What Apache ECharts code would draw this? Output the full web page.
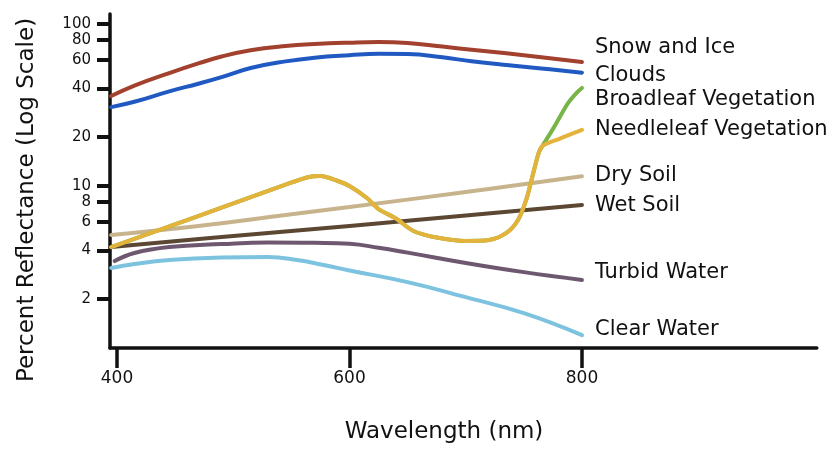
<!DOCTYPE html>
<html>
<head>
<meta charset="utf-8">
<script src="https://cdn.jsdelivr.net/npm/echarts@6/dist/echarts.min.js"></script>
<style>
  html, body { margin: 0; padding: 0; background: #fff; }
  #chart { width: 835px; height: 450px; }
</style>
</head>
<body>
<div id="chart"></div>
<script>
// ---- Data (wavelength in nm, reflectance in %) ----
const seriesNames = ['Snow and Ice', 'Clouds', 'Broadleaf Vegetation', 'Needleleaf Vegetation', 'Dry Soil', 'Wet Soil', 'Turbid Water', 'Clear Water'];

const snowX = [395, 415, 445, 470, 490, 515, 545, 570, 600, 625, 650, 680, 705, 735, 765, 800];
const snowY = [35.9, 41.7, 49.8, 57.1, 63.0, 68.9, 73.1, 75.2, 76.7, 77.4, 76.3, 72.6, 69.3, 65.9, 62.3, 58.3];

const cloudsX = [395, 415, 445, 470, 490, 515, 545, 570, 600, 625, 650, 680, 705, 735, 765, 800];
const cloudsY = [30.7, 33.1, 38.4, 42.8, 47.0, 53.5, 58.8, 62.0, 64.2, 65.5, 65.2, 62.3, 58.9, 55.8, 53.2, 50.1];

const needleX = [395, 445, 490, 545, 565, 575, 590, 600, 615, 625, 640, 655, 675, 700, 720, 735, 745, 752, 758, 763, 766, 780, 800];
const needleY = [4.2, 5.63, 7.36, 10.2, 11.36, 11.53, 10.74, 10.0, 8.43, 7.21, 6.30, 5.28, 4.81, 4.58, 4.64, 5.13, 6.17, 8.2, 11.96, 16.2, 17.66, 19.5, 22.2];

const broadX = [395, 445, 490, 545, 565, 575, 590, 600, 615, 625, 640, 655, 675, 700, 720, 735, 745, 752, 758, 763, 766, 776, 788, 796, 800];
const broadY = [4.2, 5.63, 7.36, 10.2, 11.36, 11.53, 10.74, 10.0, 8.43, 7.21, 6.30, 5.28, 4.81, 4.58, 4.64, 5.13, 6.17, 8.2, 11.96, 16.2, 17.66, 23.1, 32.5, 38.0, 40.3];

const drySoilX = [395, 470, 545, 600, 700, 800];
const drySoilY = [4.98, 5.66, 6.62, 7.42, 9.18, 11.5];

const wetSoilX = [395, 500, 600, 700, 800];
const wetSoilY = [4.2, 4.91, 5.67, 6.58, 7.63];

const turbidX = [398, 415, 445, 490, 530, 570, 600, 625, 650, 700, 750, 800];
const turbidY = [3.44, 3.86, 4.20, 4.38, 4.48, 4.46, 4.40, 4.16, 3.88, 3.35, 2.94, 2.63];

const clearX = [395, 415, 445, 490, 530, 555, 580, 600, 650, 700, 750, 800];
const clearY = [3.12, 3.30, 3.49, 3.62, 3.65, 3.49, 3.23, 3.01, 2.55, 2.06, 1.64, 1.20];

const xTicks = [400, 600, 800];
const yTicks = [2, 4, 6, 8, 10, 20, 40, 60, 80, 100];

// ---- Chart ----
const FONT = 'DejaVu Sans';
const INK = '#111111';
const zip = (xs, ys) => xs.map((x, i) => [x, ys[i]]);

function lineSeries(name, xs, ys, color, labelDy, z, smooth) {
  return {
    name: name,
    type: 'line',
    data: zip(xs, ys),
    smooth: smooth,
    showSymbol: false,
    symbol: 'none',
    z: z,
    lineStyle: { color: color, width: 4, cap: 'round', join: 'round' },
    itemStyle: { color: color },
    endLabel: {
      show: true,
      formatter: '{a}',
      color: INK,
      fontFamily: FONT,
      fontSize: 21,
      distance: 13,
      offset: [0, labelDy],
      align: 'left',
      verticalAlign: 'middle'
    },
    emphasis: { disabled: true }
  };
}

const chart = echarts.init(document.getElementById('chart'), null, { renderer: 'canvas' });
chart.setOption({
  animation: false,
  backgroundColor: '#ffffff',
  grid: { left: 110, right: 18.2, top: 14, bottom: 102, containLabel: false, outerBoundsMode: 'none' },
  xAxis: {
    type: 'value',
    min: 394,
    max: 1002,
    splitLine: { show: false },
    axisLine: { show: true, lineStyle: { color: INK, width: 3.5 } },
    axisTick: { show: true, customValues: xTicks, length: 20, lineStyle: { color: INK, width: 3.5 } },
    axisLabel: { show: true, customValues: xTicks, margin: 22, color: INK, fontFamily: FONT, fontSize: 17 }
  },
  yAxis: {
    type: 'log',
    logBase: 10,
    min: 1,
    max: 115.3,
    splitLine: { show: false },
    minorTick: { show: false },
    axisLine: { show: true, lineStyle: { color: INK, width: 3.5 } },
    axisTick: { show: true, customValues: yTicks, length: 13, lineStyle: { color: INK, width: 4 } },
    axisLabel: { show: true, customValues: yTicks, margin: 19, color: INK, fontFamily: FONT, fontSize: 15 }
  },
  graphic: [
    {
      type: 'text',
      x: 27, y: 200,
      rotation: Math.PI / 2,
      style: { text: 'Percent Reflectance (Log Scale)', fill: INK, font: '23px "DejaVu Sans"', textAlign: 'center', textVerticalAlign: 'middle' }
    },
    {
      type: 'text',
      x: 444, y: 432,
      style: { text: 'Wavelength (nm)', fill: INK, font: '23px "DejaVu Sans"', textAlign: 'center', textVerticalAlign: 'middle' }
    }
  ],
  series: [
    lineSeries(seriesNames[0], snowX, snowY, '#a3412f', -14, 2, 0.45),
    lineSeries(seriesNames[1], cloudsX, cloudsY, '#2159c2', 3, 2, 0.45),
    lineSeries(seriesNames[4], drySoilX, drySoilY, '#c8b48c', -1, 2, 0.45),
    lineSeries(seriesNames[5], wetSoilX, wetSoilY, '#5b4732', 1, 2, 0.45),
    lineSeries(seriesNames[6], turbidX, turbidY, '#6e5870', -7, 2, 0.45),
    lineSeries(seriesNames[7], clearX, clearY, '#7dc3e0', -6, 2, 0.45),
    lineSeries(seriesNames[2], broadX, broadY, '#78b548', 12, 2, 0.3),
    lineSeries(seriesNames[3], needleX, needleY, '#e3b33b', 0, 3, 0.3)
  ]
});
</script>
</body>
</html>
